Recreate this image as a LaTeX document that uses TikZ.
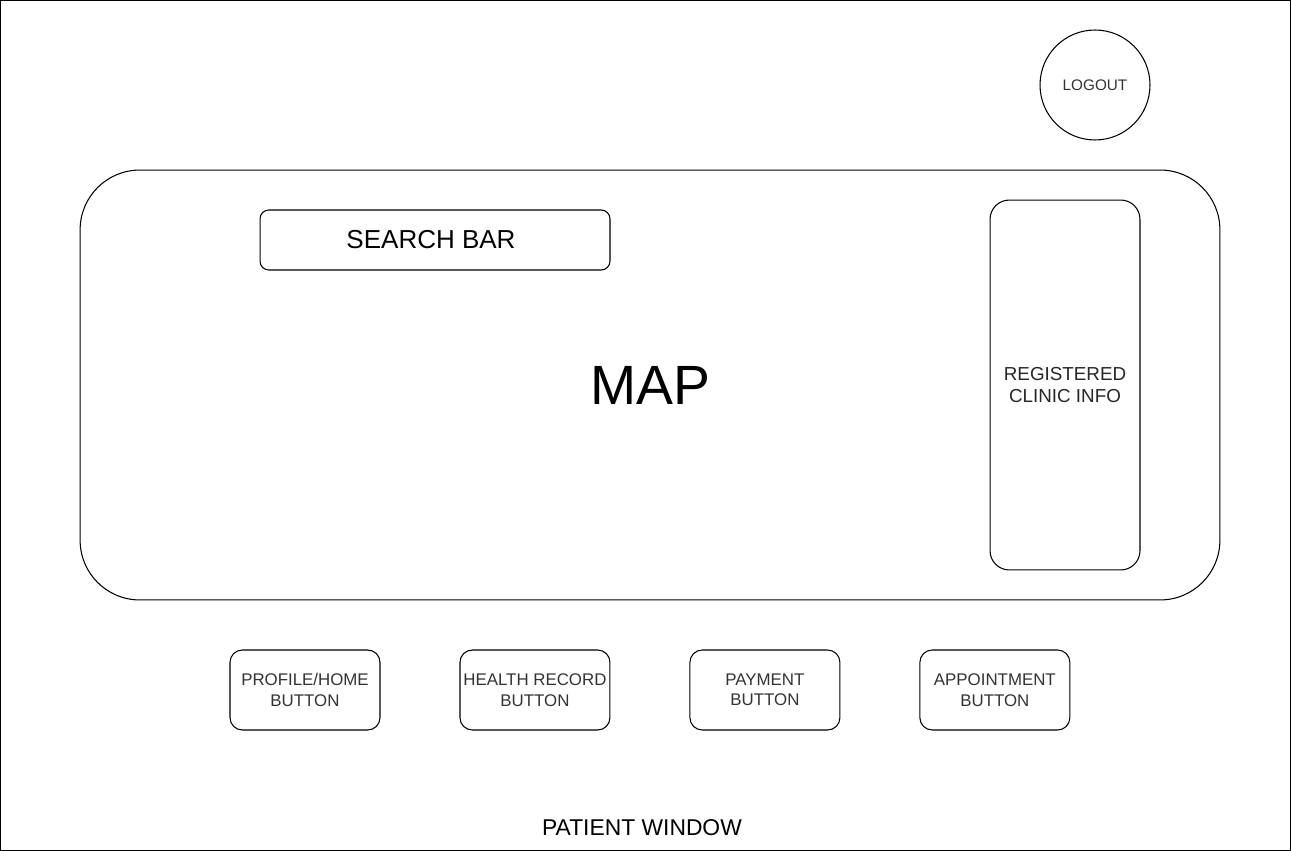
\documentclass[tikz,border=0pt]{standalone}
\usepackage{fontspec}
\setmainfont{Liberation Sans}
\usetikzlibrary{positioning}

\tikzset{
  box/.style={draw, line width=0.6pt, rounded corners=#1, align=center, inner sep=0pt, outer sep=0pt},
  box/.default=6pt,
  navbutton/.style={box=7pt, minimum width=3cm, minimum height=1.6cm,
    font=\fontsize{9.6}{11.6}\selectfont, text=black!80},
}

\begin{document}
\begin{tikzpicture}[x=0.02cm, y=-0.02cm, line width=0.6pt]
\useasboundingbox (0,0) rectangle (1291,851);
% window frame
\draw (0.5,0.5) rectangle (1290.5,850.5);
\node (title) at (642,828) {\fontsize{13}{15}\selectfont PATIENT WINDOW};

% logout
\node[draw, circle, minimum size=2.2cm, inner sep=0pt,
  font=\fontsize{8.7}{10}\selectfont, text=black!80] (logout) at (1095,85) {LOGOUT};

% map area
\node[box=34pt, minimum width=22.8cm, minimum height=8.6cm] (map) at (650,385) {};
\node[font=\fontsize{31.5}{36}\selectfont] (maplabel) at (650,385) {MAP};
\node[box=5pt, minimum width=7cm, minimum height=1.2cm] (search) at (435,240) {};
\node[font=\fontsize{14.8}{17}\selectfont] (searchlabel) at (431,240) {SEARCH BAR};
\node[box=11pt, minimum width=3cm, minimum height=7.4cm,
  font=\fontsize{10.7}{13}\selectfont, text=black!85] (clinic) at (1065,385) {REGISTERED\\CLINIC INFO};

% buttons
\node[navbutton] (profile) at (305,690) {PROFILE/HOME\\BUTTON};
\node[navbutton, right=1.6cm of profile] (health) {HEALTH RECORD\\BUTTON};
\node[navbutton, right=1.6cm of health] (payment) {PAYMENT\\BUTTON};
\node[navbutton, right=1.6cm of payment] (appoint) {APPOINTMENT\\BUTTON};
\end{tikzpicture}
\end{document}
